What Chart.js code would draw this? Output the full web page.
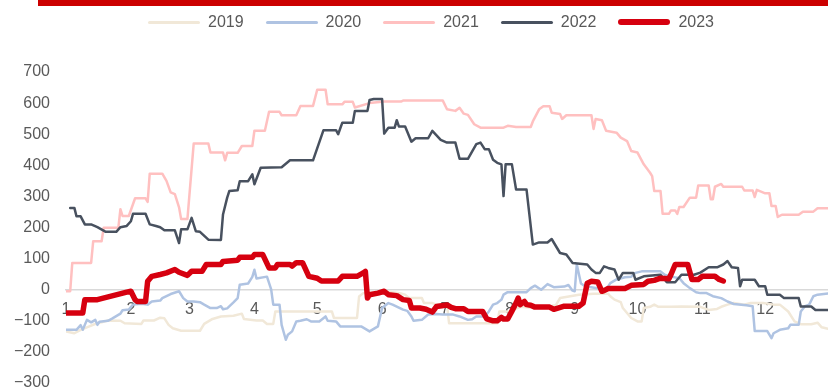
<!DOCTYPE html>
<html>
<head>
<meta charset="utf-8">
<script src="https://cdn.jsdelivr.net/npm/chart.js@4"></script>
<style>
  html, body { margin: 0; padding: 0; background: #fff; }
  #wrap { position: relative; width: 828px; height: 390px; }
  #topbar { position: absolute; left: 38px; top: 0; width: 790px; height: 6px; background: #cc0000; }
  #legend {
    position: absolute; top: 13px; left: 148px;
    display: flex; gap: 22px;
    font: 16px 'Liberation Sans', Arial, sans-serif; color: #595959; line-height: 18px;
  }
  #legend .item { display: flex; align-items: center; }
  #legend .item i { display: inline-block; width: 52px; margin-right: 8px; border-radius: 3px; }
</style>
</head>
<body>
<div id="wrap">
  <canvas id="chart" width="828" height="390"></canvas>
  <div id="topbar"></div>
  <div id="legend"></div>
</div>
<script>
const monthStarts = [0, 31, 59, 90, 120, 151, 181, 212, 243, 273, 304, 334];
const monthLabels = ['1', '2', '3', '4', '5', '6', '7', '8', '9', '10', '11', '12'];
const yTicks = [-300, -200, -100, 0, 100, 200, 300, 400, 500, 600, 700];

const days2019 = [0, 4, 7, 10, 15, 17, 20, 26, 28, 36, 37, 42, 45, 47, 49, 51, 55, 64, 66, 70, 74, 80, 84, 85, 91, 94, 96, 99, 100, 127, 128, 139, 140, 142, 153, 156, 160, 162, 164, 170, 171, 175, 177, 182, 183, 206, 207, 212, 217, 224, 234, 236, 245, 252, 259, 260, 262, 265, 266, 270, 273, 275, 276, 279, 281, 283, 289, 294, 303, 307, 311, 313, 316, 319, 324, 327, 333, 338, 341, 345, 348, 351, 356, 359, 361, 364];
const vals2019 = [-134, -140, -129, -121, -107, -105, -99, -100, -108, -110, -99, -99, -90, -92, -113, -124, -132, -132, -110, -94, -86, -84, -77, -94, -99, -99, -110, -110, -70, -70, -91, -91, -22, -11, -5, -8, -12, -16, -27, -27, -43, -43, -48, -48, -108, -108, -70, -70, -55, -59, -50, -27, -16, -13, -13, -21, -32, -40, -59, -91, -102, -102, -59, -55, -48, -55, -55, -54, -55, -65, -62, -55, -48, -43, -48, -43, -43, -48, -48, -70, -102, -111, -111, -106, -121, -126];

const days2020 = [0, 5, 7, 8, 10, 12, 14, 15, 16, 20, 22, 26, 27, 30, 32, 36, 39, 41, 45, 46, 50, 54, 56, 58, 61, 64, 66, 69, 72, 74, 75, 77, 80, 82, 83, 87, 89, 90, 91, 96, 98, 99, 102, 103, 105, 106, 108, 110, 112, 115, 117, 121, 124, 125, 129, 131, 141, 145, 149, 151, 154, 156, 161, 163, 165, 166, 170, 173, 177, 180, 185, 188, 192, 194, 196, 200, 202, 204, 206, 208, 209, 211, 220, 222, 224, 227, 230, 233, 238, 240, 242, 243, 244, 246, 248, 258, 260, 263, 267, 270, 272, 275, 284, 286, 289, 293, 295, 298, 301, 303, 306, 309, 313, 316, 319, 325, 328, 329, 335, 337, 338, 341, 345, 346, 350, 351, 353, 355, 357, 359, 364];
const vals2020 = [-129, -129, -114, -129, -97, -105, -97, -113, -103, -100, -93, -77, -66, -64, -48, -45, -48, -38, -35, -27, -14, -5, -27, -38, -38, -40, -48, -59, -59, -53, -63, -60, -41, -27, 16, 20, 41, 64, 36, 42, 1, -48, -48, -113, -161, -145, -134, -102, -100, -95, -102, -102, -86, -100, -102, -118, -118, -134, -118, -59, -43, -48, -64, -68, -86, -100, -97, -80, -78, -80, -80, -86, -97, -95, -86, -86, -70, -48, -43, -32, -16, -8, -8, 5, 13, 0, 18, 8, 10, 15, -3, -5, 81, 20, 11, 0, 21, 33, 40, 42, 54, 59, 59, 48, 42, 37, 21, 5, -8, -11, -11, -21, -27, -38, -46, -50, -53, -133, -133, -156, -140, -129, -124, -113, -113, -70, -53, -48, -21, -16, -12];

const days2021 = [0, 2, 3, 12, 13, 17, 18, 25, 26, 27, 30, 33, 38, 39, 40, 46, 48, 50, 52, 54, 55, 58, 61, 68, 69, 75, 76, 77, 82, 84, 89, 90, 95, 97, 102, 103, 110, 112, 118, 120, 124, 125, 132, 133, 137, 138, 145, 152, 160, 161, 180, 182, 186, 188, 190, 192, 195, 198, 209, 211, 215, 222, 223, 226, 228, 231, 232, 236, 237, 239, 251, 252, 253, 256, 258, 263, 265, 268, 270, 273, 276, 279, 280, 281, 284, 285, 288, 289, 291, 292, 293, 295, 298, 301, 302, 307, 308, 309, 310, 313, 314, 323, 324, 328, 329, 330, 334, 336, 337, 339, 340, 342, 350, 352, 357, 359, 364];
const vals2021 = [-5, -5, 86, 86, 156, 156, 199, 199, 259, 237, 237, 294, 294, 282, 373, 373, 350, 313, 307, 265, 227, 227, 470, 470, 441, 441, 416, 440, 440, 462, 462, 511, 511, 572, 572, 561, 561, 591, 591, 643, 643, 596, 596, 604, 604, 586, 600, 605, 605, 608, 608, 580, 575, 585, 566, 562, 532, 521, 521, 527, 523, 523, 541, 580, 590, 590, 569, 565, 549, 561, 561, 517, 549, 545, 511, 505, 489, 478, 446, 441, 403, 376, 365, 317, 317, 244, 244, 255, 255, 244, 266, 266, 296, 296, 335, 335, 291, 291, 331, 340, 331, 331, 319, 319, 298, 321, 310, 310, 269, 269, 234, 241, 241, 251, 251, 262, 262];

const days2022 = [2, 4, 5, 7, 9, 12, 15, 19, 24, 26, 29, 31, 32, 38, 40, 43, 45, 47, 52, 54, 55, 58, 60, 62, 64, 68, 74, 75, 77, 78, 82, 83, 87, 89, 90, 93, 103, 107, 118, 123, 129, 130, 132, 137, 138, 144, 145, 147, 151, 152, 154, 157, 158, 159, 162, 165, 167, 173, 175, 179, 182, 186, 188, 192, 196, 198, 200, 202, 204, 206, 208, 209, 210, 213, 215, 220, 223, 226, 230, 232, 236, 239, 242, 249, 251, 253, 255, 257, 259, 262, 264, 266, 271, 272, 276, 284, 287, 291, 294, 300, 303, 307, 311, 314, 316, 318, 321, 322, 323, 329, 331, 334, 335, 341, 343, 350, 351, 356, 358, 364];
const vals2022 = [263, 263, 236, 236, 210, 210, 201, 186, 186, 201, 205, 220, 244, 244, 210, 205, 201, 191, 191, 150, 194, 194, 231, 188, 186, 161, 160, 242, 296, 317, 320, 349, 349, 371, 339, 392, 394, 416, 416, 513, 513, 500, 537, 537, 575, 575, 610, 613, 613, 502, 521, 521, 545, 525, 525, 476, 487, 487, 511, 482, 473, 473, 421, 421, 468, 473, 452, 452, 418, 408, 403, 301, 403, 403, 322, 322, 145, 152, 152, 163, 118, 113, 86, 81, 65, 54, 54, 75, 70, 65, 32, 54, 54, 32, 43, 48, 24, 24, 48, 48, 55, 72, 72, 81, 92, 72, 70, 11, 32, 32, 11, 11, -16, -16, -27, -27, -54, -54, -65, -65];

const days2023 = [0, 8, 9, 15, 29, 31, 33, 34, 38, 39, 41, 45, 48, 52, 54, 58, 60, 65, 67, 74, 75, 82, 83, 89, 90, 94, 97, 100, 101, 107, 108, 110, 113, 116, 120, 122, 130, 132, 139, 142, 143, 144, 145, 149, 152, 154, 158, 161, 164, 165, 169, 172, 175, 177, 182, 184, 186, 190, 192, 199, 201, 204, 206, 208, 209, 211, 213, 215, 216, 217, 219, 220, 222, 224, 231, 233, 235, 238, 245, 247, 249, 251, 254, 256, 257, 259, 267, 270, 276, 278, 281, 284, 288, 289, 291, 297, 299, 302, 304, 310, 312, 314];
const vals2023 = [-75, -75, -32, -32, -8, -5, -32, -38, -38, 27, 43, 49, 54, 65, 56, 46, 59, 59, 81, 81, 91, 95, 104, 104, 113, 113, 70, 70, 81, 81, 76, 87, 87, 43, 37, 28, 28, 43, 43, 54, 59, -27, -16, -11, -5, -16, -19, -32, -35, -59, -59, -63, -72, -54, -49, -57, -61, -61, -70, -70, -94, -100, -100, -89, -94, -94, -69, -43, -27, -48, -38, -48, -50, -56, -56, -63, -59, -53, -53, -43, 21, 27, 25, -5, -3, 4, 4, 14, 17, 27, 30, 37, 35, 49, 81, 81, 33, 33, 43, 43, 33, 28];

function toPoints(xs, ys) {
    return xs.map((x, i) => ({ x: x, y: ys[i] }));
}

function lineSet(label, xs, ys, color, width, order) {
    return {
        label: label,
        data: toPoints(xs, ys),
        borderColor: color,
        backgroundColor: color,
        borderWidth: width,
        pointRadius: 0,
        pointHoverRadius: 0,
        tension: 0,
        borderJoinStyle: 'round',
        borderCapStyle: 'round',
        order: order
    };
}

const datasets = [
    lineSet('2019', days2019, vals2019, '#f1e8d8', 2.5, 4),
    lineSet('2020', days2020, vals2020, '#afc3e2', 2.5, 3),
    lineSet('2021', days2021, vals2021, '#ffc0c0', 2.5, 2),
    lineSet('2022', days2022, vals2022, '#48515f', 2.5, 1),
    lineSet('2023', days2023, vals2023, '#d6000f', 5.5, 0)
];

// legend built from the datasets
const legendEl = document.getElementById('legend');
datasets.forEach(ds => {
    const item = document.createElement('span');
    item.className = 'item';
    const swatch = document.createElement('i');
    swatch.style.background = ds.borderColor;
    swatch.style.height = (ds.borderWidth > 4 ? 6 : 3) + 'px';
    item.appendChild(swatch);
    item.appendChild(document.createTextNode(ds.label));
    legendEl.appendChild(item);
});

const ctx = document.getElementById('chart').getContext('2d');
new Chart(ctx, {
    type: 'line',
    data: { datasets: datasets },
    options: {
        responsive: false,
        animation: false,
        layout: { padding: { left: 0, right: 0, top: 72, bottom: 7 } },
        plugins: {
            tooltip: { enabled: false },
            legend: { display: false }
        },
        scales: {
            x: {
                type: 'linear',
                min: 0,
                max: 364,
                position: { y: 0 },
                afterFit: scale => { scale.height = 0; },
                grid: { display: false, drawTicks: false },
                border: { display: true, color: '#d9d9d9', width: 1.5 },
                afterBuildTicks: scale => {
                    scale.ticks = monthStarts.map(v => ({ value: v }));
                },
                ticks: {
                    autoSkip: false,
                    maxRotation: 0,
                    padding: 10,
                    color: '#595959',
                    font: { family: 'Liberation Sans, Arial, sans-serif', size: 16 },
                    callback: value => monthLabels[monthStarts.indexOf(value)]
                }
            },
            y: {
                min: -300,
                max: 700,
                afterBuildTicks: scale => {
                    scale.ticks = yTicks.map(v => ({ value: v }));
                },
                afterFit: scale => {
                    scale.width = 66;
                    scale.paddingTop = 0;
                    scale.paddingBottom = 0;
                },
                grid: { display: false, drawTicks: false },
                border: { display: false },
                ticks: {
                    padding: 16,
                    color: '#595959',
                    font: { family: 'Liberation Sans, Arial, sans-serif', size: 16 },
                    callback: value => value < 0 ? '\u2212' + Math.abs(value) : String(value)
                }
            }
        }
    }
});
</script>
</body>
</html>
